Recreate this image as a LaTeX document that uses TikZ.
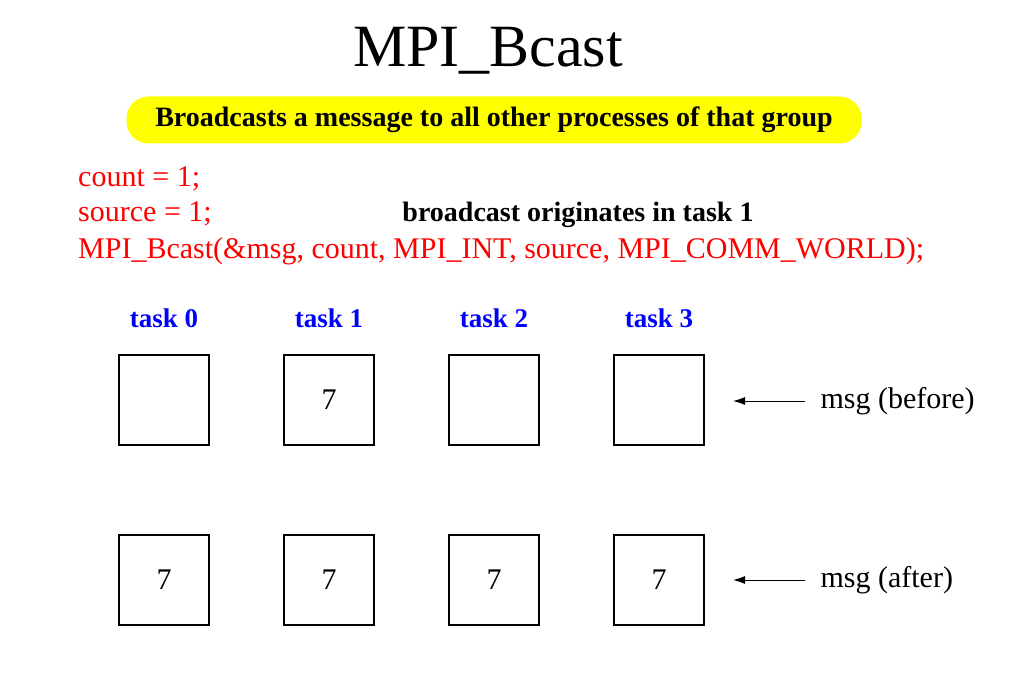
\documentclass[tikz,border=0pt]{standalone}
\usepackage{fontspec}
\setmainfont{Liberation Serif}
\usetikzlibrary{arrows.meta,positioning}
\definecolor{bannery}{RGB}{255,255,0}

\begin{document}
\begin{tikzpicture}[x=1pt, y=-1pt,
  node distance=73.8pt,
  buf/.style={rectangle, draw, line width=1.2pt, minimum width=90pt, minimum height=90pt, inner sep=0pt, font=\fontsize{30}{30}\selectfont},
  task/.style={anchor=base, text=blue, font=\fontsize{27}{27}\selectfont\bfseries},
  code/.style={anchor=base west, text=red, inner sep=0pt, font=\fontsize{30}{30}\selectfont},
  msg/.style={anchor=west, font=\fontsize{30}{30}\selectfont},
  arrow/.style={{Latex[length=12pt,width=8pt]}-, line width=1pt, shorten >=12pt}
]
  \useasboundingbox (0,0) rectangle (1015,690);

  % heading
  \node[font=\fontsize{60}{60}\selectfont] (title) at (488,51) {MPI\_Bcast};
  \node[fill=bannery, rounded corners=22pt, minimum width=735pt, minimum height=47pt, font=\fontsize{28}{28}\selectfont\bfseries] (banner) at (494,120) {Broadcasts a message to all other processes of that group};

  % call
  \node[code] (cnt) at (78,186) {count = 1;};
  \node[code] (src) at (78,221) {source = 1;};
  \node[code] (call) at (78,258) {MPI\_Bcast(\&msg, count, MPI\_INT, source, MPI\_COMM\_WORLD);};
  \node[anchor=base, font=\fontsize{28}{28}\selectfont\bfseries] (orig) at (578,221) {broadcast originates in task 1};

  % buffers before
  \node[buf] (b0) at (164,400) {};
  \node[buf, right=of b0] (b1) {7};
  \node[buf, right=of b1] (b2) {};
  \node[buf, right=of b2] (b3) {};

  % buffers after
  \node[buf, below=88.8pt of b0] (a0) {7};
  \node[buf, right=of a0] (a1) {7};
  \node[buf, right=of a1] (a2) {7};
  \node[buf, right=of a2] (a3) {7};

  \node[task] (t0) at (b0.north |- 0,327) {task 0};
  \node[task] (t1) at (b1.north |- 0,327) {task 1};
  \node[task] (t2) at (b2.north |- 0,327) {task 2};
  \node[task] (t3) at (b3.north |- 0,327) {task 3};

  % labels
  \node[msg] (before) at (817,401) {msg (before)};
  \node[msg] (after) at (817,580) {msg (after)};
  \coordinate (pb) at (733,401);
  \coordinate (pa) at (733,580);
  \draw[arrow] (pb) -- (before);
  \draw[arrow] (pa) -- (after);
\end{tikzpicture}
\end{document}
